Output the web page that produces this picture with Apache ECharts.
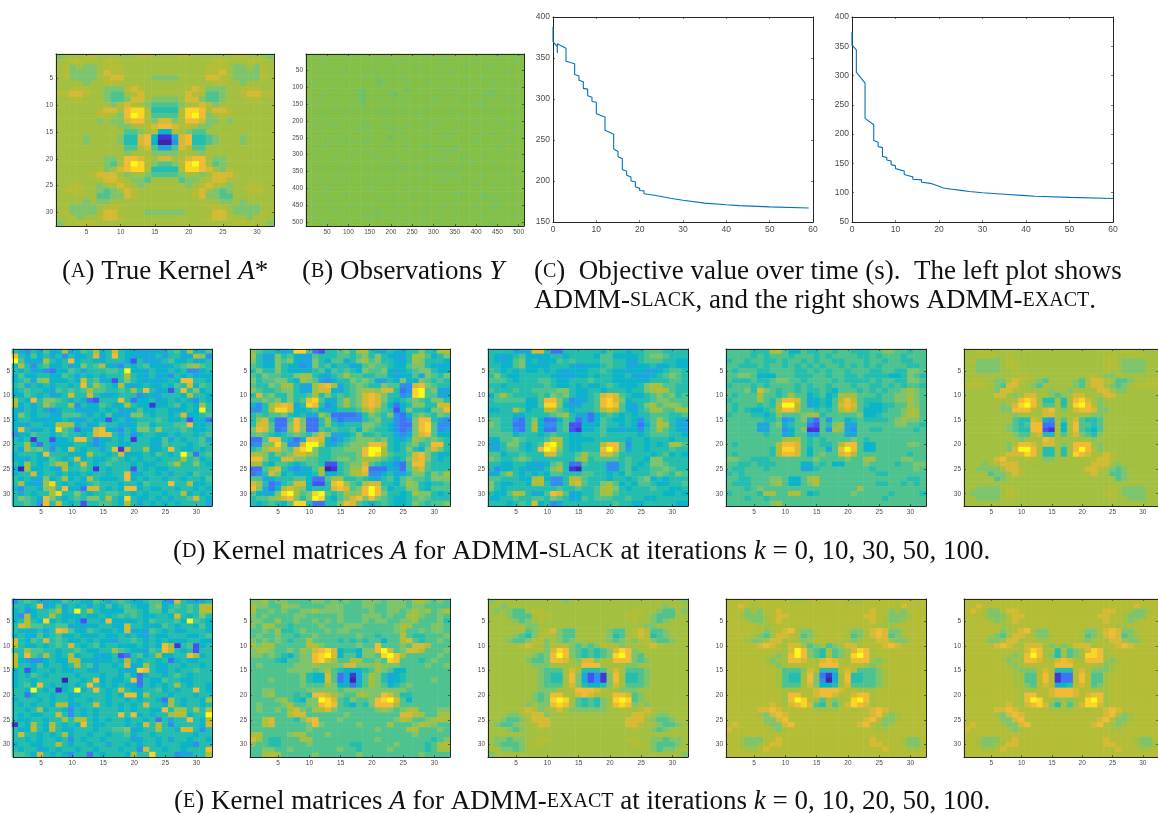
<!DOCTYPE html>
<html><head><meta charset="utf-8">
<style>html,body{margin:0;padding:0;background:#fff;overflow:hidden}#c,#t{position:absolute;left:0;top:0;width:1158px;height:813px}#c{filter:blur(0.65px)}</style>
<script src="https://cdn.jsdelivr.net/npm/echarts@6/dist/echarts.min.js"></script>
</head><body><div id="c"></div><div id="t"></div>
<script>
// Heat values: one hex digit per cell, low (0) to high (f).
const trueKernel = [
"9aaabbaa aaaabbaa aabbaaaa aabbaaa9","aabbaaab baaaaaaa aaaaaaab baaabbaa","ab9a99ab bbaaaaaa aaaaaabb ba99a9ba","ab9999ac bbaaaaaa aaaaaabb ca9999ba",
"ab9999ab ccaaaa99 99aaaacc ba9999ba","aaaa9aab baaaaaaa aaaaaaab baa9aaaa","aabbbaa9 99bcbaaa aaabcb99 9aabbbaa","bbccbaa9 88abcaaa aaacba88 9aabccbb",
"aabbaaa9 889cca99 99acc988 9aaabbaa","aaaaaaaa 9bcba988 889abcb9 aaaaaaaa","aaaaaabc cadeeb77 77beedac cbaaaaaa","aaaaaabb a9dfeb88 88befd9a bbaaaaaa",
"aaaaaa9a 99cdda9c c9addc99 a9aaaaaa","aaaaaaaa a99abbcd dcbba99a aaaaaaaa","aaaaaaaa aa889ab6 6ba988aa aaaaaaaa","aaaa9aaa a977cd61 15cd7789 aaa9aaaa",
"aaaa9aaa a977cd60 04cd7789 aaa9aaaa","aaaaaaaa aa88bc85 58cb88aa aaaaaaaa","aaaaaaaa aa9aaa99 99aaa9aa aaaaaaaa","aaaaaaa9 9addcbac cabcdda9 9aaaaaaa",
"aaaaaaa9 8adfeb98 89befda8 9aaaaaaa","aaaaaab9 acdeeb77 77beedca 9baaaaaa","aaaaabcc ca9aa988 889aa9ac ccbaaaaa","aaaaaabc cba998aa aa899abc cbaaaaaa",
"aabbaa9a bcba9aaa aaa9abcb a9aabbaa","abbbaa98 9acbaaaa aaaabca9 89aabbba","aaaaaa88 99cbaaaa aaaabc99 88aaaaaa","aaaa9a99 aaaaaaaa aaaaaaaa 99a9aaaa",
"aa9999ab bbaaaaaa aaaaaabb ba9999aa","ab9999ac caaaa999 999aaaac ca9999ba","aab9aabc cbaaaaaa aaaaaabc cbaa9baa","9aabbbaa aaaaaaaa aaaaaaaa aabbbaa9"];

const observations = [
"9999999989 9999899999 9989999999 9999989999","9998999999 9989999899 9999989999 9899999989","9999999999 9999998999 8999999998 9999899999","9989999899 9999999999 9999899999 9998999999",
"9999998999 9989989999 9899998999 9999999899","9999999999 8998999899 9999999998 9989999999","9899999999 9997899989 9989999999 9999899999","9999989999 9998999999 9999989999 8999999989",
"9999999998 7999989979 9899999899 9998899999","9998999999 7999987999 9999999999 9988899999","9999999998 7998999989 9998999989 9999999899","9989999999 7999989899 9999899999 8889999999",
"9999989989 8999999999 9989999999 9989999999","9999999999 9989799889 9899998999 9999899989","9998999899 9999989999 8999999989 9999999999","9999999999 8999999999 9999899999 8999989999",
"9899889999 9899899989 9988999999 9899998999","9999999998 8899988999 9999999899 9999999989","9989999899 9999999899 9989999999 9989899999","9999999999 9899979999 9999988999 9999999999",
"9999898989 8899999989 9999999999 9899999899","9998999999 9999899989 9889999899 9999989999","9999999999 8999999999 9999888899 9999999999","9899999989 9989999998 9999999999 9989999989",
"9999989999 9998998999 9988989988 9999999999","9999999899 9999998999 9999999999 8999899999","9989999999 9899899889 8899899989 9999999999","9999998999 9999999999 9998988899 9999989899",
"9999999999 9899998999 9899999899 9989999999","9989989899 9999899999 9999889989 9999999989","9999999999 9989999989 9999999999 9899899999","9999899999 9899999999 8999999999 9999999999",
"9998999899 9999998999 9989999889 9989999899","9999999999 9998999998 9999999999 9988889999","9899899999 8999989999 9989999899 9999999989","9999999989 9899999899 9999989999 9899889999",
"9999989999 9998999999 9899999999 9999899999","9899999899 8988998999 9999899899 9989999989","9999999999 9899999989 9899999999 9999999999","9998999989 9999999999 9999899899 9999899999"];

const slackK0 = [
"76475866 a5687a67 c7665556 5786a668","d7686757 47567c57 d7656567 57756b94","f8565b76 7d677667 77527555 78667567","6b747866 756978b6 54767866 56789a87",
"76756436 68757778 87f66576 67674467","68667766 87576767 77b76675 64767566","67859a66 676c7856 27976565 676dd776","78576767 767d7a87 6b656766 7687c687",
"67877658 7878a887 787a7d75 627d7967","66876756 7c77c765 67774665 7776b776","a76d7998 76763277 7d736675 67676476","a6757a87 7a476687 66b76616 678676a7",
"65767546 77656676 75668667 765676f7","69767765 88875768 65599767 767c6678","67766566 76557662 67567778 76672663","6657766b bb675687 76568867 7788d667",
"6d75676e 87366cd6 5476997a 77787667","46687767 87767cdd 75746776 67677678","76717726 67dd7466 76717766 85767785","77a63756 66776467 76677765 87776787",
"75a89747 6c767757 d1c77a66 7d766767","67776d77 7666b776 7c666768 767f8378","66576687 67c67667 87676776 777a7867","76a7678b a67c7678 77767667 78b77976",
"50a66765 b7787176 77727676 67777777","677c6776 76676776 77d56776 75776877","76765967 a676b766 67d67677 67767768","7b655ae7 67667877 76776877 7d77b667",
"647769a7 d663cc76 76dd6766 77677676","757677ae 77976778 87767677 677b6767","79876d97 6787997b 76e76676 76778c76","77874d7c 76727788 76b75767 67677775"];

const slackK10 = [
"9877656e e8327789 7aa76576 677977ab","a7559786 55877788 78979765 57aa8679","97569896 55976885 79a89776 57a97776","87669766 45978677 56898876 68997656",
"79779766 66786878 76988965 67899766","87988779 aa76578a 88778865 66859879","97889976 a9854677 98985576 96698787","87798aa7 55acda57 89877988 44cd9877",
"98778997 55acc657 89aa9cc7 34ef8955","7c897797 78a79787 89cdc977 45ef8855","88989797 8de8658a 89cdc976 78987997","647acdc5 7ed7468a 89cdc863 679977cc",
"447aeec6 67865677 78ac9872 6977699d","78788976 755a8333 34798794 36898798","7ac7338d 9337a534 44789774 349dd754","7cc8339d 93379767 77998764 339de844",
"9dc8349d 93387877 86987764 349de845","89876789 879c9556 79778775 459cd866","338dd753 5ddc6457 89998976 57a98987","4499e944 cffa6578 999ddc76 78978dd7",
"78acc98c ef977889 99dffa76 79769c97","aa97989c ca977888 89dfea87 78cd9766","dd977cc9 98877899 89aa9876 79cd9767","aa768876 78872278 99c87664 38dd8777",
"338ac754 568a0178 aad33365 38ac8777","347c9676 667a6678 abc44675 5799798a","88567778 86338aa7 78765786 89887999","ca73478c c6227dea 87bcc776 8a976778",
"d9536aca 96777cdc 89dfd867 79976888","86569efa 89ef878a 9adfd977 67a99767","7889acd9 79fe7689 cd9d9876 67898777","7678768e e733779d c8767876 67987889"];

const slackK30 = [
"7777555c c7337777 77687767 78887777","76567866 66776777 76886666 78998777","76568967 56687877 77887755 78887766","77668966 66777655 66787765 66756766",
"87676766 76765666 77876656 65567887","79766777 77655566 76776675 55678987","88876777 88766777 87776666 66777887","77677777 78766767 66787666 79ba8877",
"87778778 88899766 77677767 79aba877","68a87777 87989766 78cdc876 67898978","78888866 8dd97455 78dec967 77899888","77777766 8ee96557 78ded865 79a89a98",
"6677b867 7bb87677 78bcb865 78aa88aa","77776677 7789a755 36787676 77888778","88774379 63368735 36876676 478a8765","9877337a 64478226 66877676 368ba755",
"8877437a 63378216 57866566 478a8765","88886777 67877667 77877777 67888776","66889877 78bb7666 67777767 76777677","55799767 8efb7667 77bdd847 76767aa8",
"65788767 dfe97667 77dfd857 76777877","88677877 7cc8778a 88cc9777 77678676","98778987 7777779a 78888787 76997777","77667765 56897338 77744787 67998777",
"74667656 579b7107 77744786 77889877","568a7676 76887778 87767687 77898798","8877766a b6447bb8 77767767 89676777","9766776a b7447bc8 779a8676 88766778",
"97677777 77787787 78ab9767 77877667","7668ba75 68dc8567 78aa8777 77776676","66778778 87987568 78887787 76677777","7776787c 67457777 77778776 67777766"];

const slackK50 = [
"8888777a b8668778 87887778 89988788","88887878 88788878 78888778 78887888","78878877 87887878 87788878 87887788","88777878 87878787 88787878 78888778",
"87888778 88877878 78878887 78877998","88998666 88877788 78877877 77667987","87778778 99887888 87877778 78877998","78887878 88878788 78887887 78787887",
"88897c98 78878778 76888787 87889a98","87888a88 78a88678 67aaa888 78899a98","78888a87 9ddc8567 68bdb877 78899a98","87888787 bffb8567 68cdc876 67788a98",
"87876678 bddb8878 78bcb866 67889aa8","78887767 98889aa7 88888966 78889ba8","88888877 84589538 48867877 7789a998","88888558 96788328 79a55888 88899887",
"88888558 84689118 4a954887 78888878","88888878 85688558 88855888 88888888","88888888 8abb8787 88889878 88888888","87888888 bddc8787 78bdd866 88888998",
"88888887 beec8688 58dfd866 88888888","87888887 bddc8689 88cdb888 88888788","99887778 88888898 888988aa 88889988","88778777 88886687 86688898 88878899",
"87788878 88885578 88888887 88888898","78788888 88888888 88888888 77888888","88778889 98668ab8 88888888 88888778","87778889 a86689b8 88888888 77887878",
"88878988 88888888 88888a88 88888888","788887aa 88bb8678 88889888 88788887","88878878 88888888 88888888 87888888","88888889 a8888888 88888888 88888888"];

const slackK100 = [
"aabbaaaa aaaaaaaa aaaaaaaa aabbaaaa","aaabbaab aaaaaaaa aaaaaaab baaabbaa","ab9999ab baaaaaaa aaaaaaab ba9999aa","aa9999ab baaaaaaa aaaaaaab ba9999aa",
"aa9999aa baaaaaaa aaaaaaab aa9999aa","aaaaaaaa abbaaaaa aaaabba9 9aaaaaaa","abbaa99b cbaa98aa aa98accb a889aabb","bbbba98c caa98aaa aa98acca 989abbbb",
"aaaaa9cc baaaaa9a a9aaaacc a99aaaaa","aaaaacca 9accaa98 9accaaac caaaaaaa","aaaaaaaa bdeda77a 7adeca9a aaaaaaaa","aaaaaa9a cefda88a 7aefdb9a aaaaaaaa",
"aaaaaa99 dddbacda 9acddc99 aaaaaaaa","aaaaaaaa 9aaaacca aaaaa99a aaaaaaaa","aaaaaaaa 877cb64a 8ac8778a aaaaaaaa","aaaaaaa9 878dd33a 6ad8878a aaaaaaaa",
"aaaaaaa9 877dd21a 6ad8768a aaaaaaaa","aaaaaaaa 988bc77a 8ac9879a aaaaaaaa","aaaaaaaa a9aaadca aaaaa9aa aaaaaaaa","aaaaaaa9 bddcacca 9addda9a aaaaaaaa",
"aaaaaaa9 cffda77a 7adfdb9a aaaaaaaa","aaaaaabc cceda77a 7aedcaac baaaaaaa","aaaaacdb babaa99a aaaaabcc baaaaaaa","aaa9abcc caaaaaaa aaaaaccc a9aaaaaa",
"aa9999bc cbaaaaaa aaaaccba 989aaaaa","aaaa899a cbaaaaaa aaaabcaa 889aaaaa","aaaaa89a aaaaaaaa aaaaaaaa a89aaaaa","aaaaaaaa aaaaaaaa aaaaaaaa aaaaaaaa",
"aa9999ab aaaaaaaa aaaaaaaa ba9999aa","a99999ab baaaaaaa aaaaaaab ba9999aa","aa9999ab aaaaaaaa aaaaaaaa baa999aa","aaaaaaaa aaaaaaaa aaaaaaaa aaaaaaaa"];

const exactK0 = [
"47876566 87766875 78766788 54c76557","7767d568 57675768 67876689 678787bb","6746778a 67f7b766 66887688 687787bb","64b677a7 66676676 78787667 76c76797",
"67b76e67 6762776d 66667687 7786f876","7cb88778 85656677 66c77666 87677686","7666757d c8668766 76c56587 67567776","67658678 66766676 67676576 67776678",
"c7687c78 76676766 57787676 76667766","b7667678 7c767867 76667676 da178267","77a88776 77876677 a8766587 db767277","b7d87b76 7b677656 7237867b 6677da67",
"b6544676 6bb66566 76b76776 73676677","b7768677 67b78677 67c56a76 67767767","67267767 66776577 7656ed76 57677877","67687677 77677767 76863677 67876777",
"67767777 07767d67 667d3766 87766777","6786d767 6767d767 67663767 67a76776","776f7671 67f67d76 7c766778 67677d76","77367767 76677776 76dd6a77 76777677",
"67776767 76776776 77676776 3a76776a","7676776b b5677c76 76767c77 6a767767","7767a677 64767677 76767766 d7aa7a7b","7676677c 74767677 7d7d6767 7abb677f",
"76677677 a7bb7676 77677673 7577d76b","176b76b7 676d7667 77676c7b 7477776c","766b76b7 66777677 8895677a 776cc747","7c776767 a6776776 77867767 77777677",
"77676776 74767767 77755776 75776776","6776677b 76776775 77676776 77766477","76775676 77677677 76774c77 6776777d","8876c767 64773767 776a77e7 7745577b"];

const exactK10 = [
"99a89988 88998989 88999899 98ab9898","a9988a99 88889998 88998899 98998888","a8898988 99a99998 88898899 89a9a89b","98988889 98888898 88999898 8aa98898",
"9988a889 88989898 88989988 99a88897","98aa8878 88898889 99888889 aa888998","8898a778 98889899 88888889 a8898998","89889887 88988888 89887888 b8778889",
"98989878 8b888878 78788688 bc878898","a9aa8888 8bb98888 8988d888 98ccb888","9aa98898 a9cdec67 7699dfc8 9ccb8889","99898768 99defc68 86998efd a8888898",
"88887688 99deca88 aa8898ed 88878988","89888889 99a9999c c999a999 88889889","88888899 9989a876 6678a986 68888888","88888888 9766c835 158a9756 78888888",
"88898888 9766c835 058a9756 78888988","88888888 9888a966 368a9867 89888888","88998888 89999989 99999999 98888888","889a8887 87ddca98 8aa99dc9 77888888",
"88889a87 699fec87 9889defc 86888888","898889b8 899ded87 6879ddda 88888888","898898ac 98aac988 88889a98 9bb88899","888888bc c8888889 88888888 ccba88aa",
"88bc8887 9cd88898 88888889 ba889aba","88bc8888 89d98888 898888a8 889ba988","88888888 89888888 88889888 8ab88898","ab88889a a8889888 88888888 88988888",
"ca877888 aa888888 88889888 88888789","98877888 89888888 77888889 888878ab","88998898 88888898 87888898 888878aa","88aba888 88988888 89888888 88898888"];

const exactK20 = [
"9aaaaaaa aaaa9aaa aaaaaaaa aaaaaaa9","aa9aaaaa aaaaaaaa aaaaaaaa aaaa9aaa","a9a988ab baaaaaaa aaaaaaab baa988a9","aaa9888a bbaaaaaa aaaaaabb aa9888aa",
"aaaa989a baaaaaaa aaaaaaab aa989aaa","aaaaaa99 aaaaaaaa aaaaaaaa a99aaaaa","aaaaaa89 abc988aa aaa988ab cb889aaa","aaaa9879 bba988aa aaa978ab cb789aaa",
"aaa9889b b9a989aa aaa989a9 bb9889aa","aaaaabcb a9bbb989 89bbb9aa abcbaaaa","aaaaaaaa a9ced987 8789ced9 aaaaaaaa","aaaaaaa9 89dfd987 8789efd9 8aaaaaaa",
"aaaaaa98 89ddca9c c9aaddd9 89aaaaaa","aaaaaaa9 99aaaaad ddaaaa99 aaaaaaaa","aaaaaaaa 9888aca7 778aca88 89aaaaaa","aaaaaaaa 9877ad95 2419da77 89aaaaaa",
"aaaaaaaa 9877ad95 2419da77 89aaaaaa","aaaaaaaa 9888ac97 6679ca88 89aaaaaa","aaaaaaaa 999aabdd dcbaa999 aaaaaaaa","aaaaaaa9 89ddbacd cbabddc8 9aaaaaaa",
"aaaaaaa9 89efea87 879aefe8 9aaaaaaa","aaaaaa9a 99deda87 879aded9 a9aaaaaa","aaaaabcb 9aaca999 999aabaa bcbaaaaa","aaa99abc c9aaaaaa aaaaaaac cba99aaa",
"aa9889ac ccaaaaaa aaaaaacc ca9889aa","a9889aab ccaaaaaa aaaaaacc baa9889a","aaa989aa baaaaaaa aaaaaaab aa989aaa","aaaaaaaa aaaaaaaa aaaaaaaa aaaaaaaa",
"a99899aa bbaaaaaa aaaaaabb aa99899a","a98889ab baaaaaaa aaaaaaab ba98889a","aa9989aa aaaaaaaa aaaaaaaa aa9899aa","9aaaaaaa aaaaaaaa aaaaaaaa aaaaaaa9"];

const exactK50 = [
"bbbbbbbb bbaaabbb bbbaaabb bbbbbbbb","bbcbabbb bbbbbbbb bbbbbbbb bbbacbbb","bbb9a9bb cbbbbbbb bbbbbbbc bb9a9bbb","bba999ab ccbbbbbb bbbbbbcc ba999abb",
"bbba99ab cbbbbbbb bbbbbbbc ba99abbb","bbbbbaaa bbbbbbbb bbbbbbbb aaabbbbb","bbbbbb9a bcda99bb bbba99bc dc99abbb","bbbba98a ccba89ab bbba89ac dc89abbb",
"bbba99ac caba9abb bbba9aba cca99abb","bbbbbcdc bacca89a 89accabb bcdcbbbb","bbbbbbbb bacfd987 a89aceda bbbbbbbb","bbbbbbba 9adfd987 a89aefda bbbbbbbb",
"bbbbbba9 aaddcbac dcbaddda 9abbbbbb","bbbbbbba 9abbbbbd ddbbbba9 abbbbbbb","bbbbbbbb a8889cb7 77bcb888 9abbbbbb","bbbbbbbb a877ad93 15ad7788 9abbbbbb",
"bbbbbbbb a877ad94 05ad7788 9abbbbbb","bbbbbbbb a888ac96 67ac8888 9abbbbbb","bbbbbbbb baaabbcd ddcbbaaa bbbbbbbb","bbbbbbbb baddbbcd dcbbcdda bbbbbbbb",
"bbbbbbbb badfeba8 a9abefda bbbbbbbb","bbbbbbbc bacdec87 a8acedca bbbbbbbb","bbbbbccd cbbbbbaa aabbabbc dcbbbbbb","bbbbba9c dcbbbbbb bbbbbbbc db9abbbb",
"bbbbbb99 cdbbbbbb bbbbbbcd b99abbbb","bcbbbba9 9cdbbbbb bbbbbcdb a9abbbbb","cbbbbbba 9abbbbbb bbbbbbbb aabbbbbb","bbbbbbbb bbbbbbbb bbbbbbbb bbbbbbbb",
"bba999bb cbbbbbbb bbbbbbbc bbbba99b","bba99abc cbbbbbbb bbbbbbbc cbbba99a","bbbaabcb bbbbbbbb bbbbbbbb bcbbbaab","bbbbbbbb bbbbbbbb bbbbbbbb bbbbbbbb"];

const exactK100 = [
"bbbbbbbb bbbbbbbb bbbbbbbb bbbbbbbb","bbcbbbbb bbbbbbbb bbbbbbbb bbbbcbbb","bcba99bc cbbbbbbb bbbbbbbc cbba99ab","bbba999b ccbbbbbb bbbbbbcc bba999bb",
"bbbba9ab cbbbbbbb bbbbbbbc bba9abbb","bbbbbbaa bbbbbbbb bbbbbbbb baabbbbb","bbbbbb9a bcda99bb bbba99bc dc99abbb","bbbba98a ccba99ab bbba89ac dc89abbb",
"bbba99ac cabbaabb bbba9aba cca99abb","bbbbbcdc baccca9a 9acccabb bcdcbbbb","bbbbbbbb bacedaa7 a89aceda bbbbbbbb","bbbbbbba 9adfda97 a89aeeda bbbbbbbb",
"bbbbbba9 aaddcbac dcbaddda 9abbbbbb","bbbbbbba 9abbbbbd ddbbbba9 abbbbbbb","bbbbbbbb a999bcb7 77bcb999 abbbbbbb","bbbbbbbb aa88bdb1 33bdb88a bbbbbbbb",
"bbbbbbbb aa88bdb1 33bdb88a bbbbbbbb","bbbbbbbb aa98bcb5 67bcb89a bbbbbbbb","bbbbbbbb baaabbcd ddcbbaaa bbbbbbbb","bbbbbbbb baddbbcd ddcbcdda bbbbbbbb",
"bbbbbbbb badfeba9 a9abefda bbbbbbbb","bbbbbbbc bacdec97 a8aceeca bbbbbbbb","bbbbbccd cbbbbbaa aabbabbc dcbbbbbb","bbbbba9c dcbbbbbb bbbbbbbc db9abbbb",
"bbbbbb99 cdbbbbbb bbbbbbcd b99abbbb","bcbbbba9 9cdbbbbb bbbbbcdb a9abbbbb","cbbbbbba 9abbbbbb bbbbbbbb aabbbbbb","bbbbbbbb bbbbbbbb bbbbbbbb bbbbbbbb",
"bba999bb cbbbbbbb bbbbbbbc bbbba99b","bba99abc cbbbbbbb bbbbbbbc cbbba99a","bbbaabcb bbbbbbbb bbbbbbbb bcbbbaab","bbbbbbbb bbbbbbbb bbbbbbbb bbbbbbbb"];

const kernelTicks = Array.from({length:32},(_,i)=>String(i+1));
const imageTicks = Array.from({length:512},(_,i)=>String(i+1));

const slackTime = [0,0,0.3,1,1,1,3,3,5,5,6,6,7,7,8,8,9,9,10,10,12,12,14,14,15,15,16,16,17,17,18,18,19,19,20,20,21,21,23,23,25,25,27,30,35,40,43,50,59];
const slackObj = [388,370,368,363.5,356,367.5,362,346,343,330,328,323,321,313,312,304,302,297,296,282,278,262,257,239,236,229.5,227,214,212,207,205,200,199,193,191,188.5,188,184.5,183,181.5,181,180.5,179,176.5,173,171,170,168.5,167];
const exactTime = [0,0,1,1,3,3,5,5,6,6,7,7,8,8,9,9,10,10,11,12,12,13,14,14,16,16,18,18,20,21,23,25,27,30,35,40,42,50,60];
const exactObj = [375,352,344,306,287,227,216,189,186,179,177,162,160,156,154,148,146,141.5,139,137,131,129,127,123,122,118,116,113,111,108,106,104,102,100,97.5,95,94,92,90];

const parula = ['#3e26a8','#4535d8','#4750f2','#3f72f5','#2f8eee','#1da6dc','#0bb4c8','#25bdae','#4ec38f','#7ec46c','#a4c040','#b4bd36','#d4bb33','#f2bb36','#fbd424','#f9fb15'];
const greens = ['#4dbe80','#5cbf74','#6cc068','#7ac05c','#84c048'];

function cells(rows){
  const out=[];
  rows.forEach((r,y)=>{
    r.replace(/\s+/g,'').split('').forEach((ch,x)=>out.push([x,y,parseInt(ch,16)]));
  });
  return out;
}
// Front layer: frames, ticks, labels, curves, captions. Back layer: the heat images, softened.
const frontGrids=[],frontX=[],frontY=[],frontSeries=[];
const backGrids=[],backX=[],backY=[],backSeries=[];
const tickCol='#262626',lblCol='#4a4a4a';
function box(g,xOpts,yOpts,fs){
  const gi=frontGrids.length; frontGrids.push(g);
  const lab={color:lblCol,fontFamily:'Liberation Sans',fontSize:fs,margin:3};
  const line={show:true,lineStyle:{color:tickCol,width:1}};
  const tick=(o)=>({show:true,inside:true,length:2,lineStyle:{color:tickCol,width:0.6},...o});
  const mk=(o,pos,labels)=>({gridIndex:gi,position:pos,axisLine:{...line,onZero:false},splitLine:{show:false},...o.base,
     axisTick:tick(o.tick||{}),axisLabel:labels?{...lab,...(o.label||{})}:{show:false}});
  frontX.push(mk(xOpts,'bottom',true)); const xi=frontX.length-1; frontX.push(mk(xOpts,'top',false));
  frontY.push(mk(yOpts,'left',true)); const yi=frontY.length-1; frontY.push(mk(yOpts,'right',false));
  return {xi,yi};
}
function catAxis(labels,step,inverse){
  const f=(i,v)=>Number(v)%step===0;
  return {base:{type:'category',data:labels,boundaryGap:true,inverse:!!inverse},tick:{alignWithLabel:true,interval:f},label:{interval:f}};
}
function image(g,rows,side){
  const k=backGrids.length; backGrids.push(g);
  const idx=Array.from({length:side},(_,i)=>String(i));
  backX.push({gridIndex:k,type:'category',data:idx,show:false});
  backY.push({gridIndex:k,type:'category',data:idx,show:false,inverse:true});
  backSeries.push({type:'heatmap',xAxisIndex:k,yAxisIndex:k,data:cells(rows),progressive:0,itemStyle:{borderWidth:0}});
  return backSeries.length-1;
}
const kernelSeries=[];
function heat(x0,x1,y0,y1,rows){
  const g={left:x0,top:y0,width:x1-x0,height:y1-y0};
  box(g,catAxis(kernelTicks,5),catAxis(kernelTicks,5,true),6.5);
  kernelSeries.push(image(g,rows,32));
}
heat(56,274,54,226,trueKernel);
const obsGrid={left:306,top:54,width:218,height:172};
box(obsGrid,catAxis(imageTicks,50),catAxis(imageTicks,50,true),6.5);
const obsIndex=image(obsGrid,observations,observations.length);
function curve(x0,x1,ymin,t,v){
  const b=box({left:x0,top:17,width:x1-x0,height:205},
    {base:{type:'value',min:0,max:60,interval:10}},
    {base:{type:'value',min:ymin,max:400,interval:50}},8.5);
  frontSeries.push({type:'line',xAxisIndex:b.xi,yAxisIndex:b.yi,data:t.map((x,i)=>[x,v[i]]),showSymbol:false,lineStyle:{color:'#0072bd',width:1.1},animation:false});
}
curve(553,813,150,slackTime,slackObj);
curve(852,1113,50,exactTime,exactObj);
const colsX=[[12,212],[250,450],[488,688],[726,926],[964,1164]];
[slackK0,slackK10,slackK30,slackK50,slackK100].forEach((r,i)=>heat(colsX[i][0],colsX[i][1],349,506,r));
[exactK0,exactK10,exactK20,exactK50,exactK100].forEach((r,i)=>heat(colsX[i][0],colsX[i][1],599,757,r));

const F='Liberation Serif';
const rich={n:{fontFamily:F,fontSize:27,fill:'#111'},s:{fontFamily:F,fontSize:20,fill:'#111'},i:{fontFamily:F,fontSize:27,fontStyle:'italic',fill:'#111'}};
const cap=(x,y,text)=>({type:'text',left:x,top:y,silent:true,style:{text,rich,fontFamily:F,fontSize:27,fill:'#111'}});
const captions=[
 cap(62,258,'{n|(}{s|A}{n|) True Kernel }{i|A}{n|*}'),
 cap(302,258,'{n|(}{s|B}{n|) Observations }{i|Y}'),
 cap(534,258,'{n|(}{s|C}{n|)  Objective value over time (s).  The left plot shows}'),
 cap(534,287,'{n|ADMM-}{s|SLACK}{n|, and the right shows ADMM-}{s|EXACT}{n|.}'),
 cap(173,538,'{n|(}{s|D}{n|) Kernel matrices }{i|A}{n| for ADMM-}{s|SLACK}{n| at iterations }{i|k}{n| = 0, 10, 30, 50, 100.}'),
 cap(174,788,'{n|(}{s|E}{n|) Kernel matrices }{i|A}{n| for ADMM-}{s|EXACT}{n| at iterations }{i|k}{n| = 0, 10, 20, 50, 100.}')
];
const back=echarts.init(document.getElementById('c'),null,{renderer:'canvas'});
back.setOption({animation:false,backgroundColor:'#fff',grid:backGrids,xAxis:backX,yAxis:backY,series:backSeries,
 visualMap:[
  {type:'continuous',show:false,min:0,max:15,dimension:2,seriesIndex:kernelSeries,inRange:{color:parula}},
  {type:'continuous',show:false,min:5,max:9,dimension:2,seriesIndex:[obsIndex],inRange:{color:greens}}
 ]});
const front=echarts.init(document.getElementById('t'),null,{renderer:'canvas'});
front.setOption({animation:false,backgroundColor:'transparent',grid:frontGrids,xAxis:frontX,yAxis:frontY,series:frontSeries,graphic:captions});
</script></body></html>
